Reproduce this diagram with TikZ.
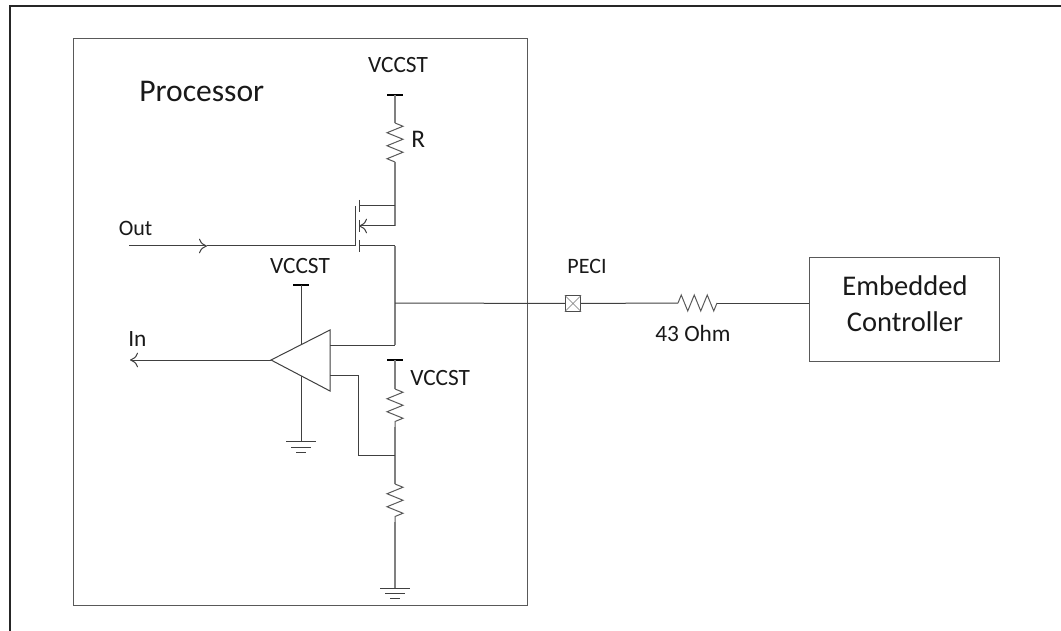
\documentclass[tikz,border=0pt]{standalone}
\usepackage{fontspec}
\setmainfont{Carlito}
\usetikzlibrary{arrows.meta,positioning,calc,decorations.pathmorphing}
\tikzstyle{wire}=[draw=black!75,line width=0.75pt]
\tikzstyle{rail}=[draw=black!50,line width=1.1pt]
\tikzstyle{bar}=[draw=black,line width=1.1pt]
\tikzstyle{res}=[draw=black!65,line width=0.75pt,decorate,decoration={zigzag,segment length=9.75pt,amplitude=6pt}]
\tikzstyle{block}=[draw=black!65,line width=0.75pt,inner sep=0pt]
\tikzstyle{lbl}=[inner sep=0pt,font=\fontsize{17.5}{20}\selectfont,text=black!90]
\tikzstyle{openarrow}=[-{To[length=6pt,width=11pt]}]

\begin{document}
\begin{tikzpicture}[x=0.75pt,y=-0.75pt]
\useasboundingbox (0,0) rectangle (1061,631);
% outer frame
\coordinate (fa) at (10,631);
\coordinate (fb) at (10,6);
\coordinate (fc) at (1061,6);
\draw [line width=0.9pt,black!85] (fa) -- (fb) -- (fc);
% processor
\node [block,minimum width=340.5pt,minimum height=424.5pt] (processor) at (300,322) {};
\node [lbl,font=\fontsize{23.7}{26}\selectfont,anchor=base west] (proclabel) at (139,102) {Processor};
\node [lbl,anchor=base] (vccta) at (398,73) {VCCST};
\coordinate (topbar) at (395,95);
\coordinate (topl) at (387,95);
\coordinate (topr) at (403,95);
\coordinate (ra) at (395,123);
\coordinate (rb) at (395,162);
\node [lbl,font=\fontsize{19}{21}\selectfont,anchor=base west] (rlabel) at (411,148) {R};
\draw [bar] (topl) -- (topr);
\draw [rail] (topbar) -- (ra);
\draw [res] (ra) -- (rb);
% transistor
\coordinate (drain) at (395,206);
\coordinate (body) at (395,226);
\coordinate (source) at (395,246);
\coordinate (chd) at (359,206);
\coordinate (chb) at (359,226);
\coordinate (chs) at (359,246);
\coordinate (gatetop) at (355,206);
\coordinate (gatebot) at (355,246);
\coordinate (outin) at (129,246);
\coordinate (outmid) at (207,246);
\draw [rail] (rb) -- (drain) -- (body);
\draw [wire] (drain) -- (chd);
\draw [wire,openarrow] (body) -- (chb);
\draw [wire] (source) -- (chs);
\draw [wire] ($(chd)+(0,-6)$) -- ($(chd)+(0,6)$);
\draw [wire] ($(chb)+(0,-6)$) -- ($(chb)+(0,6)$);
\draw [wire] ($(chs)+(0,-6)$) -- ($(chs)+(0,6)$);
\draw [wire] (gatetop) -- (gatebot);
\draw [wire,openarrow] (outin) -- (outmid);
\draw [wire] (outmid) -- (gatebot);
\node [lbl,font=\fontsize{16.5}{20}\selectfont,anchor=base west] (outlabel) at (118.5,236) {Out};
% peci line
\coordinate (tap) at (395,303);
\coordinate (inp) at (395,345);
\node [draw=black!70,line width=0.75pt,minimum size=11.5pt,inner sep=0pt] (peci) at (573,303.5) {};
\draw [black!55,line width=0.5pt] (peci.north west) -- (peci.south east);
\draw [black!55,line width=0.5pt] (peci.north east) -- (peci.south west);
\node [lbl,font=\fontsize{16.5}{20}\selectfont,anchor=base] (pecilabel) at (587,274) {PECI};
\coordinate (rca) at (678,303);
\coordinate (rcb) at (717,303);
\node [lbl,anchor=base] (ohm) at (693,341) {43 Ohm};
\node [block,minimum width=143pt,minimum height=78pt] (ec) at (904.5,309.5) {};
\node [lbl,align=center,font=\fontsize{21.4}{27}\selectfont] (ectext) at (905,303.5) {Embedded\\Controller};
\draw [rail] (source) -- (inp);
\draw [wire] (tap) -- (peci);
\draw [wire] (peci) -- (rca);
\draw [res] (rca) -- (rcb);
\draw [wire] (rcb) -- (ec.west |- rcb);
% comparator
\coordinate (apex) at (271,360);
\coordinate (backt) at (330,330);
\coordinate (backb) at (330,391);
\draw [wire,fill=white] (apex) -- (backt) -- (backb) -- cycle;
\coordinate (inl) at (130,360);
\draw [wire,openarrow] (apex) -- (inl);
\node [lbl,anchor=base west] (inlabel) at (128,346) {In};
\coordinate (pwr) at (301,285);
\coordinate (pwrin) at (301,345);
\node [lbl,anchor=base] (vcctb) at (300,273) {VCCST};
\draw [bar] ($(pwr)+(-8,0)$) -- ($(pwr)+(8,0)$);
\draw [wire] (pwr) -- (pwrin);
\coordinate (gndin) at (301,376);
\coordinate (gnda) at (301,441);
\draw [wire] (gndin) -- (gnda);
\draw [wire] ($(gnda)+(-15,0)$) -- ($(gnda)+(15,0)$);
\draw [wire] ($(gnda)+(-10,6)$) -- ($(gnda)+(10,6)$);
\draw [wire] ($(gnda)+(-5,11)$) -- ($(gnda)+(5,11)$);
\coordinate (pl) at (330,345);
\coordinate (ml) at (330,375);
\coordinate (mc) at (358,375);
\coordinate (md) at (358,455);
\draw [wire] (pl) -- (inp);
\draw [wire] (ml) -- (mc) -- (md);
% divider
\coordinate (divtop) at (395,360);
\coordinate (rda) at (395,389);
\coordinate (rdb) at (395,427);
\coordinate (divmid) at (395,455);
\coordinate (rea) at (395,484);
\coordinate (reb) at (395,522);
\coordinate (gndb) at (395,588);
\node [lbl,anchor=base west] (vcctc) at (410,385) {VCCST};
\draw [bar] ($(divtop)+(-8,0)$) -- ($(divtop)+(8,0)$);
\draw [rail] (divtop) -- (rda);
\draw [res] (rda) -- (rdb);
\draw [rail] (rdb) -- (divmid) -- (rea);
\draw [wire] (md) -- (divmid);
\draw [res] (rea) -- (reb);
\draw [rail] (reb) -- (gndb);
\draw [wire] ($(gndb)+(-15,0)$) -- ($(gndb)+(15,0)$);
\draw [wire] ($(gndb)+(-10,5)$) -- ($(gndb)+(10,5)$);
\draw [wire] ($(gndb)+(-5,10)$) -- ($(gndb)+(5,10)$);
\end{tikzpicture}
\end{document}
